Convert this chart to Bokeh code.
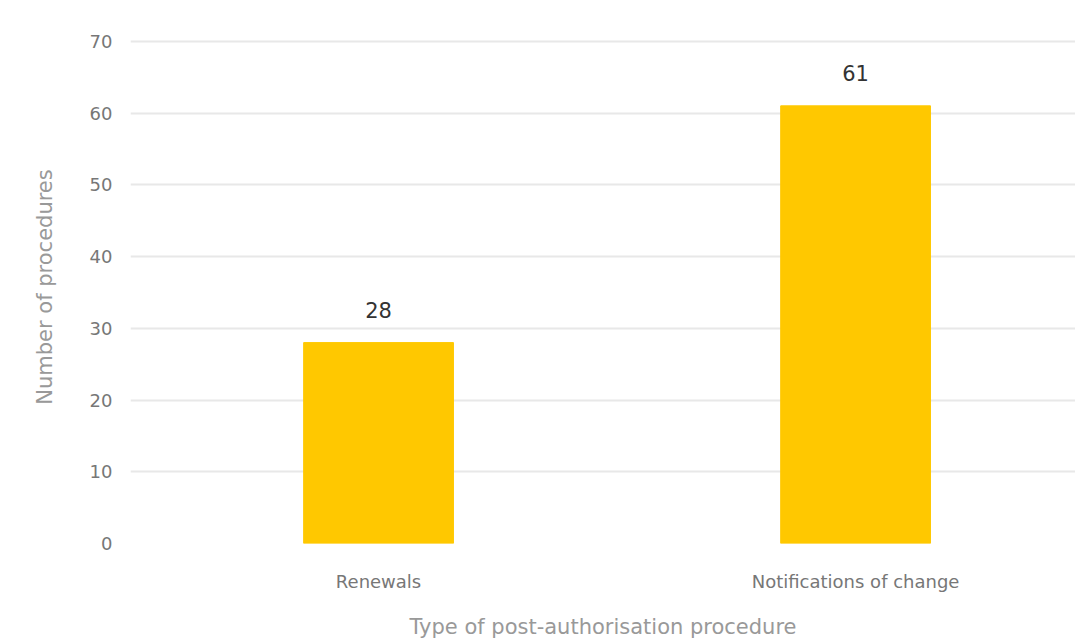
from bokeh.plotting import figure
from bokeh.models import ColumnDataSource, Range1d, FixedTicker, LabelSet
from bokeh.core.properties import value
from bokeh.embed import file_html
from bokeh.resources import INLINE

categories = ["Renewals", "Notifications of change"]
counts = [28, 61]
y_ticks = [0, 10, 20, 30, 40, 50, 60, 70]

xpos = list(range(len(categories)))
src = ColumnDataSource(dict(x=xpos, y=counts, lab=[str(c) for c in counts]))

FONT = "DejaVu Sans"

p = figure(width=1075, height=641, output_backend="svg", toolbar_location=None,
           x_range=Range1d(-0.52, 1.461), y_range=Range1d(0, 71.5),
           min_border_left=130, min_border_right=0, min_border_top=30, min_border_bottom=97)
p.outline_line_color = None
p.background_fill_color = "white"
p.border_fill_color = "white"

p.vbar(x="x", top="y", width=0.314, source=src, color="#FFC800")
labels = LabelSet(x="x", y="y", text="lab", source=src, y_offset=33, text_align="center",
                  text_baseline="middle", text_font=value(FONT), text_font_size="21px",
                  text_color="#333333")
p.add_layout(labels)

p.xaxis.ticker = FixedTicker(ticks=xpos)
p.xaxis.major_label_overrides = {i: c for i, c in enumerate(categories)}
p.yaxis.ticker = FixedTicker(ticks=y_ticks)

for ax in (p.xaxis, p.yaxis):
    ax.axis_line_color = None
    ax.major_tick_line_color = None
    ax.minor_tick_line_color = None
    ax.major_tick_out = 0
    ax.major_tick_in = 0
    ax.minor_tick_out = 0
    ax.major_label_text_color = "#777777"
    ax.major_label_text_font = FONT
    ax.major_label_text_font_size = "18px"
    ax.axis_label_text_color = "#999999"
    ax.axis_label_text_font = FONT
    ax.axis_label_text_font_size = "21px"
    ax.axis_label_text_font_style = "normal"

p.xaxis.major_label_standoff = 27
p.xaxis.axis_label = "Type of post-authorisation procedure"
p.xaxis.axis_label_standoff = 20
p.yaxis.major_label_standoff = 18
p.yaxis.axis_label = "Number of procedures"
p.yaxis.axis_label_standoff = 30

p.xgrid.grid_line_color = None
p.ygrid.grid_line_color = "#e8e8e8"
p.ygrid.grid_line_width = 2

open("out.html", "w").write(file_html(p, INLINE))
